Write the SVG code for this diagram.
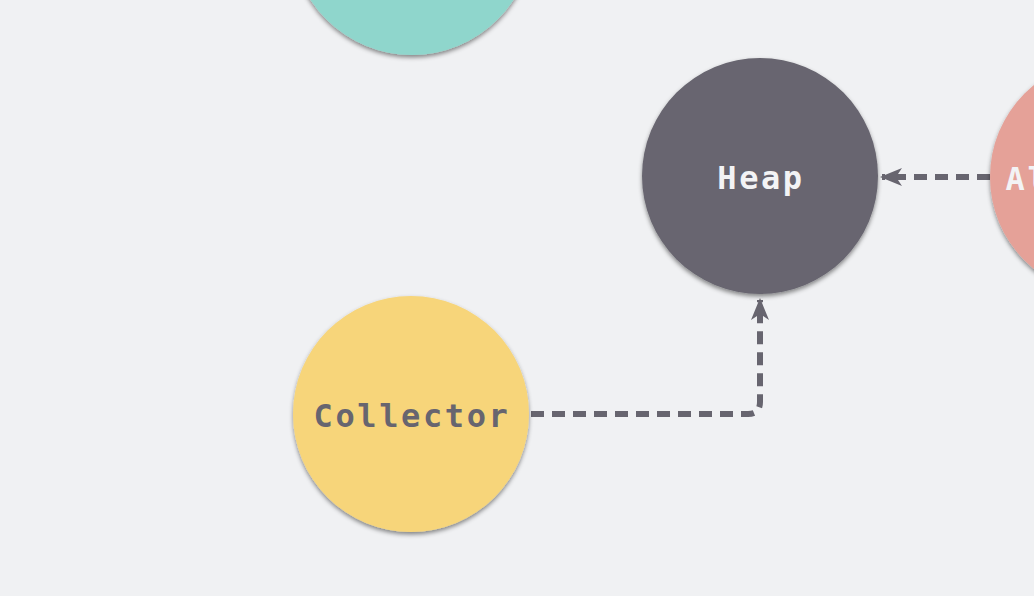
<svg xmlns="http://www.w3.org/2000/svg" width="1034" height="596" viewBox="0 0 1034 596">
<defs>
<filter id="sh" x="-20%" y="-20%" width="140%" height="140%">
<feDropShadow dx="0" dy="2.5" stdDeviation="2" flood-color="#000" flood-opacity="0.45"/>
</filter>
<marker id="arr" viewBox="0 0 22 18" refX="20" refY="9" markerWidth="22" markerHeight="18" markerUnits="userSpaceOnUse" orient="auto">
<path d="M0,0 L22,9 L0,18 L6,9 Z" fill="#67656f"/>
</marker>
<style>
.lbl{font-family:"DejaVu Sans Mono","Liberation Mono",monospace;font-size:32px;font-weight:bold;text-anchor:middle;letter-spacing:2.6px}
.edge{fill:none;stroke:#67656f;stroke-width:6;stroke-dasharray:13 8}
</style>
</defs>
<rect width="1034" height="596" fill="#f0f1f3"/>
<g id="connectors">
<path class="edge" d="M531,414 H748 Q760,414 760,402 V300" marker-end="url(#arr)"/>
<path class="edge" d="M990,177 H882" marker-end="url(#arr)"/>
</g>
<g id="node-top">
<circle cx="412" cy="-66" r="121" fill="#8fd6cc" filter="url(#sh)"/>
</g>
<g id="node-heap">
<circle cx="760" cy="176" r="118" fill="#67656f" filter="url(#sh)"/>
<text class="lbl" x="761" y="189" fill="#f3f3f5">Heap</text>
</g>
<g id="node-collector">
<circle cx="411" cy="414" r="118" fill="#f7d57a" filter="url(#sh)"/>
<text class="lbl" x="412" y="427" fill="#67656f">Collector</text>
</g>
<g id="node-allocator">
<circle cx="1108" cy="177" r="118" fill="#e5a198" filter="url(#sh)"/>
<text class="lbl" x="1104" y="190" fill="#f3f3f5">Allocator</text>
</g>
</svg>
